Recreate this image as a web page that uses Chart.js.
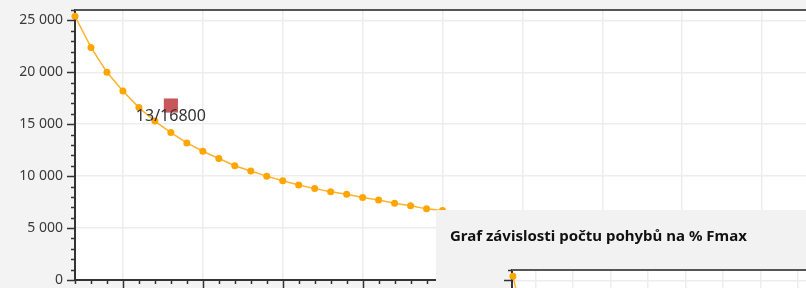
<!DOCTYPE html>
<html>
<head>
<meta charset="utf-8">
<script src="https://cdn.jsdelivr.net/npm/chart.js@4.4.1/dist/chart.umd.min.js"></script>
<style>
  html, body { margin: 0; padding: 0; width: 806px; height: 288px; overflow: hidden; background: #f3f3f3; }
  #main { position: absolute; left: 0; top: 0; }
  #panel { position: absolute; left: 436px; top: 210px; width: 370px; height: 78px; background: #f2f2f2; }
  #panel h2 { margin: 0; position: absolute; left: 14px; top: 15px; font: bold 15px "Noto Sans", "Open Sans", sans-serif; color: #111; white-space: nowrap; }
  #popup { position: absolute; left: 437px; top: 260px; }
</style>
</head>
<body>
<canvas id="main" width="860" height="330"></canvas>
<div id="panel"><h2>Graf závislosti počtu pohybů na % Fmax</h2></div>
<canvas id="popup" width="450" height="330"></canvas>
<script>
// % Fmax vs. number of movements
const fmax = [7, 8, 9, 10, 11, 12, 13, 14, 15, 16, 17, 18, 19, 20, 21, 22, 23, 24, 25, 26, 27, 28, 29, 30];
const movements = [25400, 22400, 20000, 18200, 16600, 15300, 14200, 13200, 12400, 11700, 11000, 10500, 10000, 9550,
                   9150, 8800, 8500, 8250, 7950, 7700, 7400, 7150, 6850, 6700];
// highlighted measurement
const markX = [13];
const markY = [16800];

const fmt = v => String(v).replace(/\B(?=(\d{3})+(?!\d))/g, ' ');

const frame = {
  id: 'frame',
  beforeDraw(chart) {
    const a = chart.chartArea, c = chart.ctx;
    c.save();
    c.fillStyle = '#fff';
    c.fillRect(a.left, a.top, a.right - a.left, a.bottom - a.top);
    c.restore();
  },
  afterDraw(chart) {
    const a = chart.chartArea, c = chart.ctx;
    const x = chart.scales.x, y = chart.scales.y;
    c.save();
    c.strokeStyle = '#333';
    c.lineWidth = 1.5;
    c.beginPath();
    for (let v = Math.ceil(x.min); v <= x.max; v++) {
      const px = Math.round(x.getPixelForValue(v)) + 0.5;
      c.moveTo(px, a.bottom);
      c.lineTo(px, a.bottom + (v % 5 === 0 ? 9 : 4));
    }
    for (let v = 0; v <= y.max; v += 1000) {
      const py = Math.round(y.getPixelForValue(v)) + 0.5;
      c.moveTo(a.left, py);
      c.lineTo(a.left - (v % 5000 === 0 ? 8 : 4), py);
    }
    c.stroke();
    // top frame line
    c.strokeStyle = '#555';
    c.lineWidth = 2;
    c.beginPath();
    c.moveTo(a.left, a.top);
    c.lineTo(a.right, a.top);
    c.stroke();
    // label of the highlighted point
    const meta = chart.getDatasetMeta(1);
    meta.data.forEach((el, i) => {
      c.font = '16px "Noto Sans", "Open Sans", sans-serif';
      c.fillStyle = '#333';
      c.textAlign = 'center';
      c.textBaseline = 'middle';
      c.fillText(markX[i] + '/' + markY[i], el.x, el.y + 11);
    });
    c.restore();
  }
};

function makeChart(id, xMin, showY) {
  return new Chart(document.getElementById(id), {
    type: 'scatter',
    data: {
      datasets: [{
        data: fmax.map((v, i) => ({ x: v, y: movements[i] })),
        showLine: true,
        borderColor: '#ffb22e',
        borderWidth: 1.5,
        pointRadius: 3.5,
        pointBackgroundColor: '#ffa500',
        pointBorderWidth: 0,
        clip: false
      }, {
        data: markX.map((v, i) => ({ x: v, y: markY[i] })),
        pointStyle: 'rect',
        pointRadius: 10,
        pointBackgroundColor: '#c8575c',
        pointBorderWidth: 0
      }]
    },
    options: {
      responsive: false,
      devicePixelRatio: 1,
      animation: false,
      layout: { padding: { top: 8, right: 0, left: 0, bottom: 0 } },
      plugins: { legend: { display: false }, tooltip: { enabled: false } },
      scales: {
        x: {
          type: 'linear',
          min: xMin,
          max: 55.5,
          afterFit: s => { s.height = 50; s.paddingLeft = 0; s.paddingRight = 0; },
          grid: {
            drawTicks: false,
            lineWidth: 1.5,
            color: c => (c.tick && c.tick.value % 5 === 0 ? '#ededed' : 'transparent')
          },
          border: { color: '#333', width: 2 },
          ticks: {
            stepSize: 1,
            autoSkip: false,
            padding: 12,
            callback: v => (v % 5 === 0 ? v : '')
          }
        },
        y: {
          min: 0,
          max: 26000,
          afterFit: s => { s.width = 75; s.paddingTop = 0; s.paddingBottom = 0; },
          grid: {
            drawTicks: false,
            lineWidth: 1.5,
            color: c => (c.tick && c.tick.value % 5000 === 0 ? '#ededed' : 'transparent')
          },
          border: { color: '#333', width: 2 },
          ticks: {
            display: showY,
            stepSize: 1000,
            autoSkip: false,
            padding: 12,
            color: '#3a3a3a',
            font: { family: '"Noto Sans", "Open Sans", sans-serif', size: 14 },
            callback: v => (v % 5000 === 0 ? fmt(v) : '')
          }
        }
      }
    },
    plugins: [frame]
  });
}

makeChart('main', 7, true);
makeChart('popup', 6.88, false);
</script>
</body>
</html>
